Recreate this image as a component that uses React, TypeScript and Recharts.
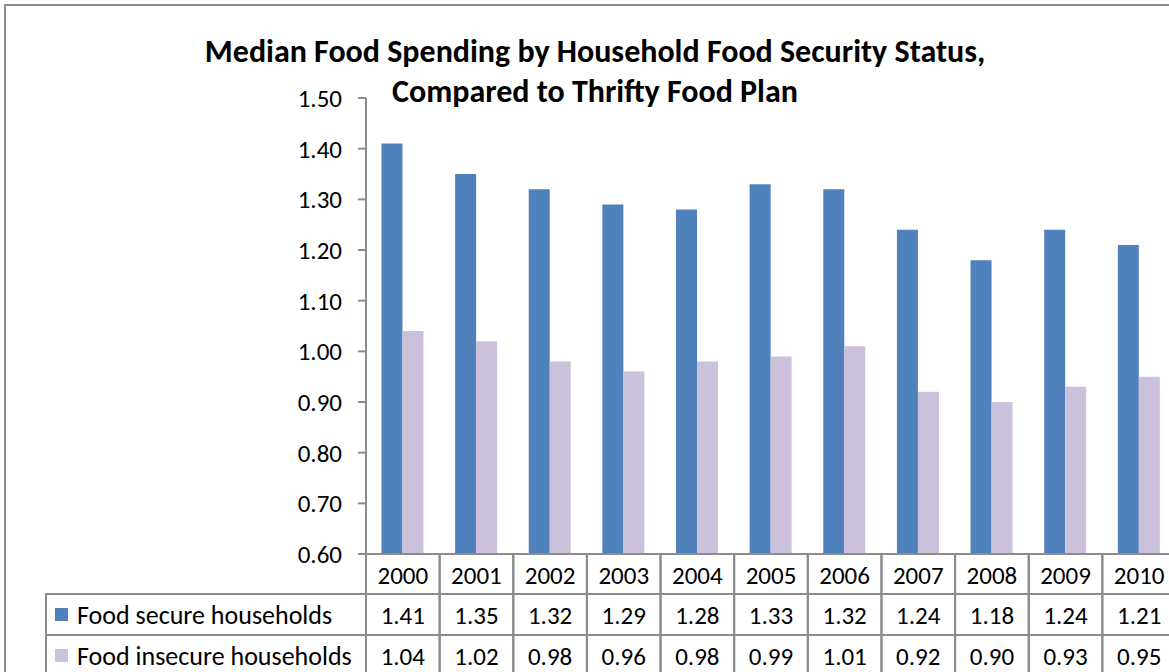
import React from 'react';
import { BarChart, Bar, XAxis, YAxis } from 'recharts';

// values
const years = ['2000', '2001', '2002', '2003', '2004', '2005', '2006', '2007', '2008', '2009', '2010'];
const secureValues = [1.41, 1.35, 1.32, 1.29, 1.28, 1.33, 1.32, 1.24, 1.18, 1.24, 1.21];
const insecureValues = [1.04, 1.02, 0.98, 0.96, 0.98, 0.99, 1.01, 0.92, 0.9, 0.93, 0.95];
const yTicks = [0.6, 0.7, 0.8, 0.9, 1.0, 1.1, 1.2, 1.3, 1.4, 1.5];
const seriesNames = ['Food secure households', 'Food insecure households'];

const data = years.map((year, i) => ({
  year,
  secure: secureValues[i],
  insecure: insecureValues[i],
}));

const FONT = 'Calibri, Carlito, Lato, sans-serif';
const LINE = '#8c8c8c';
const BLUE = '#4F81BD';
const LILAC = '#CCC1DA';
const NUM_SIZE = 25;

const CHART_W = 1180;
const PLOT_LEFT = 366;
const PLOT_RIGHT = 1176;
const BAND = (PLOT_RIGHT - PLOT_LEFT) / years.length;
const LEGEND_LEFT = 46;

type CellProps = {
  x?: number;
  y?: number;
  index?: number;
  payload?: { value: string; index?: number };
};

// one cell of the data table under the plot, drawn as an axis tick
function makeCell(row: 'year' | 'secure' | 'insecure', rowH: number) {
  return function TableCell(props: CellProps) {
    const { x = 0, y = 0 } = props;
    const i = props.index ?? props.payload?.index ?? 0;
    let label = years[i];
    if (row === 'secure') label = secureValues[i].toFixed(2);
    if (row === 'insecure') label = insecureValues[i].toFixed(2);
    const half = BAND / 2;

    return (
      <g>
        <rect x={x - half} y={y} width={BAND} height={rowH} fill="none" stroke={LINE} strokeWidth={2} />
        <text x={x} y={y + 21} textAnchor="middle" dominantBaseline="central" fontSize={NUM_SIZE} fontFamily={FONT} fill="#000">
          {label}
        </text>
        {row !== 'year' && i === 0 && (
          <g>
            <rect
              x={LEGEND_LEFT}
              y={y}
              width={PLOT_LEFT - LEGEND_LEFT}
              height={rowH}
              fill="none"
              stroke={LINE}
              strokeWidth={2}
            />
            <rect x={55} y={y + 14} width={13} height={13} fill={row === 'secure' ? BLUE : LILAC} />
            <text x={77} y={y + 21} dominantBaseline="central" fontSize={26} fontFamily={FONT} fill="#000">
              {row === 'secure' ? seriesNames[0] : seriesNames[1]}
            </text>
          </g>
        )}
      </g>
    );
  };
}

export default function App() {
  return (
    <div
      style={{
        position: 'absolute',
        left: 0,
        top: 0,
        width: 1169,
        height: 672,
        overflow: 'hidden',
        background: '#fff',
      }}
    >
      {/* chart area border */}
      <div
        style={{
          position: 'absolute',
          left: 4,
          top: 4,
          width: 1300,
          height: 800,
          border: `2px solid ${LINE}`,
        }}
      />

      <div
        style={{
          position: 'absolute',
          left: 0,
          width: 1190,
          top: 32,
          textAlign: 'center',
          fontFamily: FONT,
          fontWeight: 700,
          fontSize: 32,
          lineHeight: '40px',
          color: '#000',
        }}
      >
        Median Food Spending by Household Food Security Status,
        <br />
        Compared to Thrifty Food Plan
      </div>

      <div style={{ position: 'absolute', left: 0, top: 0 }}>
        <BarChart
          width={CHART_W}
          height={680}
          data={data}
          margin={{ top: 98, right: CHART_W - PLOT_RIGHT, left: PLOT_LEFT - 60, bottom: 0 }}
          barCategoryGap="21%"
          barGap={0}
        >
          <YAxis
            domain={[0.6, 1.5]}
            ticks={yTicks}
            tickFormatter={(v: number) => v.toFixed(2)}
            width={60}
            tickSize={8}
            tickMargin={16}
            stroke={LINE}
            axisLine={{ stroke: LINE, strokeWidth: 2 }}
            tickLine={{ stroke: LINE, strokeWidth: 2 }}
            tick={{ fill: '#000', fontSize: NUM_SIZE, fontFamily: FONT }}
            allowDataOverflow
          />
          {/* bottom axes are stacked by id, so the ids keep the table rows in order */}
          <XAxis
            xAxisId="a-year"
            dataKey="year"
            height={40}
            axisLine={false}
            tickLine={false}
            tickSize={0}
            tickMargin={0}
            interval={0}
            tick={makeCell('year', 40)}
          />
          <XAxis
            xAxisId="b-secure"
            dataKey="year"
            height={41}
            axisLine={false}
            tickLine={false}
            tickSize={0}
            tickMargin={0}
            interval={0}
            tick={makeCell('secure', 41)}
          />
          <XAxis
            xAxisId="c-insecure"
            dataKey="year"
            height={45}
            axisLine={false}
            tickLine={false}
            tickSize={0}
            tickMargin={0}
            interval={0}
            tick={makeCell('insecure', 45)}
          />
          <Bar xAxisId="a-year" dataKey="secure" name={seriesNames[0]} fill={BLUE} isAnimationActive={false} />
          <Bar xAxisId="a-year" dataKey="insecure" name={seriesNames[1]} fill={LILAC} isAnimationActive={false} />
        </BarChart>
      </div>
    </div>
  );
}
